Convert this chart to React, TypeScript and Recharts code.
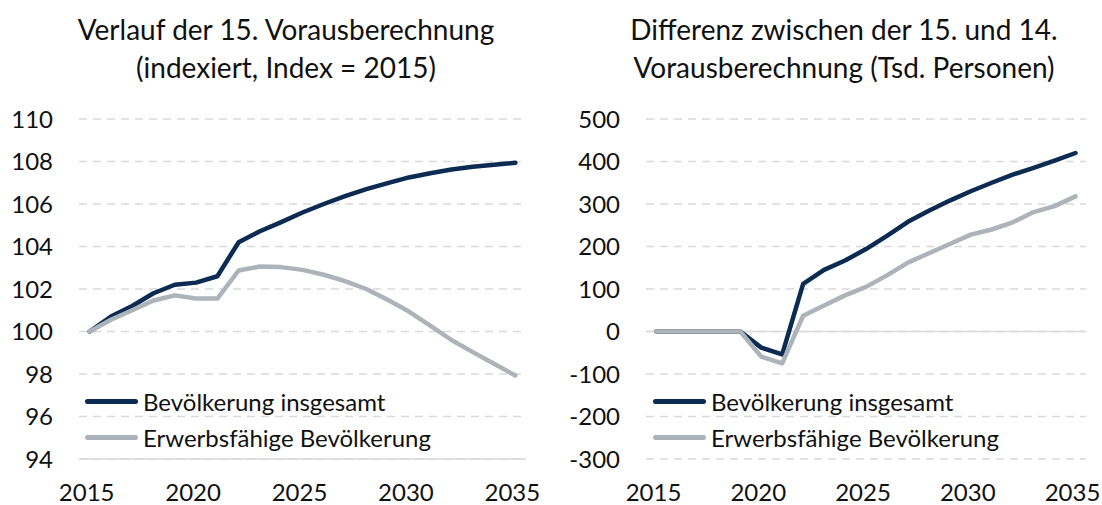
import { CartesianGrid, Legend, Line, LineChart, ReferenceLine, XAxis, YAxis } from "recharts";

const years = [
  2015, 2016, 2017, 2018, 2019, 2020, 2021, 2022, 2023, 2024, 2025,
  2026, 2027, 2028, 2029, 2030, 2031, 2032, 2033, 2034, 2035,
];

// Verlauf (Index 2015 = 100)
const bevIndex = [
  100, 100.7, 101.2, 101.8, 102.2, 102.3, 102.6, 104.2, 104.72, 105.15, 105.6,
  106.0, 106.37, 106.7, 106.98, 107.25, 107.45, 107.62, 107.75, 107.85, 107.94,
];
const erwIndex = [
  100, 100.55, 101.0, 101.46, 101.7, 101.55, 101.55, 102.87, 103.06, 103.03, 102.9,
  102.67, 102.37, 102.0, 101.49, 100.94, 100.28, 99.6, 99.03, 98.48, 97.93,
];

// Differenz 15. vs 14. Vorausberechnung (Tsd. Personen)
const bevDiff = [
  0, 0, 0, 0, 0, -38, -54, 112, 145, 167, 194,
  225, 258, 284, 308, 330, 350, 369, 385, 402, 420,
];
const erwDiff = [
  0, 0, 0, 0, 0, -59, -75, 37, 61, 85, 105,
  132, 162, 184, 206, 228, 240, 257, 281, 295, 318,
];

const xTicks = [2015, 2020, 2025, 2030, 2035];
const indexTicks = [94, 96, 98, 100, 102, 104, 106, 108, 110];
const diffTicks = [-300, -200, -100, 0, 100, 200, 300, 400, 500];

const NAVY = "#0b2b52";
const GREY = "#adb4b9";
const GRID = "#d9d9d9";
const FONT = "Lato, 'Open Sans', sans-serif";
const TICK = { fill: "#111", fontSize: 24, fontFamily: FONT };

const indexData = years.map((y, i) => ({ year: y, bev: bevIndex[i], erw: erwIndex[i] }));
const diffData = years.map((y, i) => ({ year: y, bev: bevDiff[i], erw: erwDiff[i] }));

function LegendBox({ payload }: any) {
  return (
    <div style={{ fontFamily: FONT, fontSize: 24, color: "#111" }}>
      {(payload || []).map((p: any) => (
        <div key={p.value} style={{ display: "flex", alignItems: "center", height: 36 }}>
          <span
            style={{
              display: "inline-block",
              width: 53,
              height: 5,
              borderRadius: 3,
              background: p.color,
              marginRight: 5,
            }}
          />
          <span style={{ whiteSpace: "nowrap" }}>{p.value}</span>
        </div>
      ))}
    </div>
  );
}

function Title({ lines, center }: { lines: string[]; center: number }) {
  return (
    <div
      style={{
        position: "absolute",
        left: center - 275,
        top: 10,
        width: 550,
        textAlign: "center",
        fontFamily: FONT,
        fontSize: 28,
        lineHeight: "38px",
        color: "#111",
      }}
    >
      {lines.map((l) => (
        <div key={l}>{l}</div>
      ))}
    </div>
  );
}

function Panel(props: {
  data: any[];
  left: number;
  yWidth: number;
  right: number;
  domain: [number, number];
  ticks: number[];
  baseline: number;
  legendLeft: number;
}) {
  const { data, left, yWidth, right, domain, ticks, baseline, legendLeft } = props;
  return (
    <div style={{ position: "absolute", left, top: 0 }}>
      <LineChart
        width={551}
        height={505}
        data={data}
        margin={{ top: 119, right, bottom: 0, left: 0 }}
      >
        <CartesianGrid vertical={false} stroke={GRID} strokeWidth={1.5} strokeDasharray="8 6" />
        <ReferenceLine y={baseline} stroke={GRID} strokeWidth={1.5} />
        <XAxis
          dataKey="year"
          type="number"
          domain={[2014.5, 2035.5]}
          ticks={xTicks}
          axisLine={false}
          tickLine={false}
          tickSize={0}
          tickMargin={25}
          height={46}
          tick={{ ...TICK, dx: -3 }}
        />
        <YAxis
          domain={domain}
          ticks={ticks}
          axisLine={false}
          tickLine={false}
          tickSize={0}
          tickMargin={26}
          width={yWidth}
          tick={TICK}
          interval={0}
        />
        <Legend
          layout="vertical"
          align="center"
          verticalAlign="middle"
          content={<LegendBox />}
          wrapperStyle={{ left: legendLeft, top: 383, width: 400 }}
        />
        <Line
          dataKey="bev"
          name="Bevölkerung insgesamt"
          stroke={NAVY}
          strokeWidth={4.5}
          strokeLinecap="round"
          strokeLinejoin="round"
          dot={false}
          isAnimationActive={false}
        />
        <Line
          dataKey="erw"
          name="Erwerbsfähige Bevölkerung"
          stroke={GREY}
          strokeWidth={4.5}
          strokeLinecap="round"
          strokeLinejoin="round"
          dot={false}
          isAnimationActive={false}
        />
      </LineChart>
    </div>
  );
}

export default function App() {
  return (
    <div style={{ position: "absolute", left: 0, top: 0, width: 1102, height: 505, background: "#fff" }}>
      <Panel
        data={indexData}
        left={0}
        yWidth={79}
        right={25}
        domain={[94, 110]}
        ticks={indexTicks}
        baseline={94}
        legendLeft={85}
      />
      <Panel
        data={diffData}
        left={551}
        yWidth={95}
        right={16}
        domain={[-300, 500]}
        ticks={diffTicks}
        baseline={0}
        legendLeft={102}
      />
      <Title lines={["Verlauf der 15. Vorausberechnung", "(indexiert, Index = 2015)"]} center={286} />
      <Title lines={["Differenz zwischen der 15. und 14.", "Vorausberechnung (Tsd. Personen)"]} center={844} />
    </div>
  );
}
